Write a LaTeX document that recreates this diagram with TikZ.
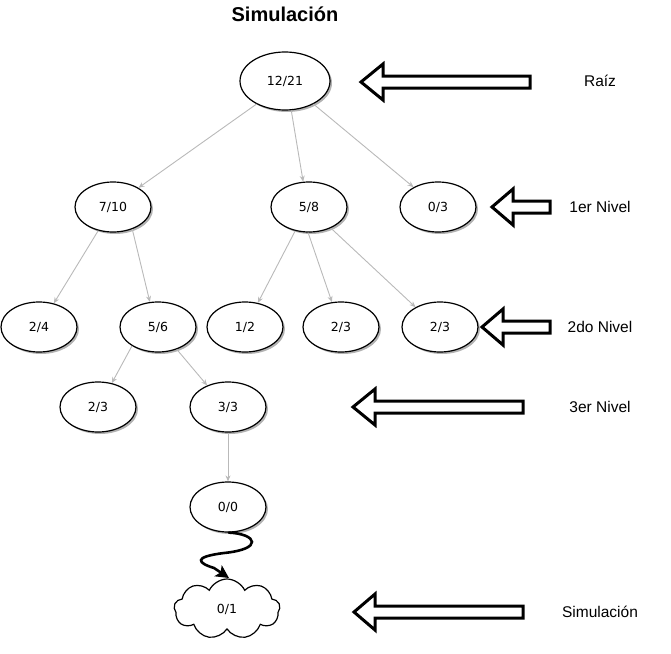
\documentclass[tikz,border=0pt]{standalone}
\usepackage{fontspec}
\setmainfont{Liberation Sans}
\newfontfamily\nodefont{DejaVu Sans}
\usetikzlibrary{shapes.geometric,shapes.symbols,shadows,arrows.meta}
\definecolor{edgegray}{RGB}{185,185,185}
\tikzset{
  st/.style={ellipse, draw=black, line width=1.2pt, fill=white,
    minimum width=76pt, minimum height=50pt, inner sep=0pt,
    font=\nodefont\fontsize{12.5pt}{14pt}\selectfont,
    drop shadow={shadow xshift=2pt, shadow yshift=-2pt, fill=black, opacity=0.3}},
  edge/.style={draw=edgegray, line width=0.9pt, -{Stealth[length=6pt,width=5pt]}},
  blockarr/.style={draw=black, line width=3pt, fill=white, line join=miter},
  lab/.style={font=\fontsize{15.5pt}{18pt}\selectfont, inner sep=0pt},
  wavy/.style={draw=black, line width=2.6pt, line cap=round, -{Stealth[length=13pt,width=13pt,inset=3pt]}}
}
\newcommand{\bigleftarrow}[4]{%
  \draw[blockarr] (#1,#2) -- (#3,#2-18) -- (#3,#2-6) -- (#4,#2-6) -- (#4,#2+6) -- (#3,#2+6) -- (#3,#2+18) -- cycle;}
\begin{document}
\begin{tikzpicture}[x=1pt,y=-1pt]
\useasboundingbox (0,0) rectangle (671,653);
% title
\node[font=\bfseries\fontsize{20pt}{24pt}\selectfont, inner sep=0pt] (title) at (285,14) {Simulación};
% nodes
\node[st, minimum width=90pt, minimum height=58pt] (root) at (285,81) {12/21};
\node[st] (n710) at (113,207) {7/10};
\node[st] (n58) at (309,207) {5/8};
\node[st] (n03) at (438,207) {0/3};
\node[st] (n24) at (39,327) {2/4};
\node[st] (n56) at (158,327) {5/6};
\node[st] (n12) at (245,327) {1/2};
\node[st] (n23a) at (341,327) {2/3};
\node[st] (n23b) at (440,327) {2/3};
\node[st] (n23c) at (98,407) {2/3};
\node[st] (n33) at (228,407) {3/3};
\node[st] (n00) at (228,507) {0/0};
\node[cloud, draw=black, line width=1.2pt, fill=white, cloud puffs=9, cloud puff arc=130, aspect=1.8,
  minimum width=106pt, minimum height=60pt, inner sep=0pt,
  font=\nodefont\fontsize{12.5pt}{14pt}\selectfont] (sim) at (227,609) {0/1};
% edges
\draw[edge] (root.-141) -- (n710.37);
\draw[edge] (root.-78) -- (n58.103);
\draw[edge] (root.-39) -- (n03.141);
\draw[edge] (n710.-122) -- (n24.58);
\draw[edge] (n710.-49) -- (n56.108);
\draw[edge] (n58.-120) -- (n12.62);
\draw[edge] (n58.-92) -- (n23a.110);
\draw[edge] (n58.-44) -- (n23b.141);
\draw[edge] (n56.-144) -- (n23c.60);
\draw[edge] (n56.-50) -- (n33.134);
\draw[edge] (n33.-90) -- (n00.90);
% wavy arrow
\coordinate (wend) at (229,578);
\draw[wavy] (n00.-88) .. controls (257,534) and (264,549) .. (224,553) .. controls (192,557) and (198,563) .. (214,568) -- (wend);
% block arrows
\bigleftarrow{361}{82}{383}{530}
\bigleftarrow{492}{207}{513}{550}
\bigleftarrow{482}{327}{503}{550}
\bigleftarrow{353}{407}{375}{523}
\bigleftarrow{354}{612}{375}{523}
% labels
\node[lab] (l0) at (600,81) {Raíz};
\node[lab] (l1) at (600,207) {1er Nivel};
\node[lab] (l2) at (600,327) {2do Nivel};
\node[lab] (l3) at (600,407) {3er Nivel};
\node[lab] (l4) at (600,612) {Simulación};
\end{tikzpicture}
\end{document}
